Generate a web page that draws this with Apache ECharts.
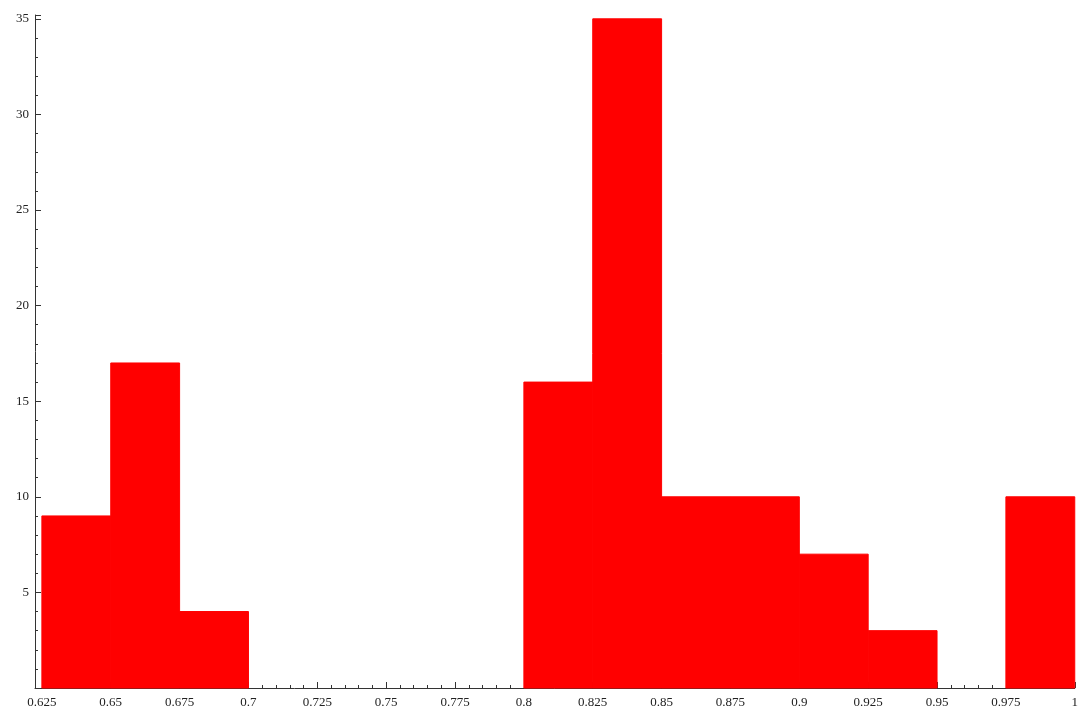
<!DOCTYPE html>
<html>
<head>
<meta charset="utf-8">
<script src="https://cdn.jsdelivr.net/npm/echarts@6/dist/echarts.min.js"></script>
<style>html,body{margin:0;background:#fff}#c{width:1081px;height:713px}</style>
</head>
<body>
<div id="c"></div>
<script>
// histogram bins (left edges, width 0.025) and counts
const binStarts = [0.625, 0.65, 0.675, 0.7, 0.725, 0.75, 0.775, 0.8, 0.825, 0.85, 0.875, 0.9, 0.925, 0.95, 0.975];
const counts    = [9, 17, 4, 0, 0, 0, 0, 16, 35, 10, 10, 7, 3, 0, 10];
const binWidth = 0.025;
const xMajor = [0.625, 0.65, 0.675, 0.7, 0.725, 0.75, 0.775, 0.8, 0.825, 0.85, 0.875, 0.9, 0.925, 0.95, 0.975, 1];
const xMinor = [];
for (let i = 0; i < 15; i++) for (let k = 1; k < 5; k++) xMinor.push(+(xMajor[i] + k * 0.005).toFixed(4));

const chart = echarts.init(document.getElementById("c"));
const font = { fontFamily: "Liberation Serif", fontSize: 13, color: "#222" };
const xBase = {
  type: "value", min: 0.6225, max: 1.0, position: "bottom",
  axisLine: { lineStyle: { color: "#333" } },
  splitLine: { show: false }
};
chart.setOption({
  animation: false,
  grid: { left: 35, right: 4, top: 15, bottom: 25 },
  xAxis: [
    Object.assign({}, xBase, {
      axisTick: { inside: true, length: 6, customValues: xMajor, lineStyle: { color: "#333" } },
      axisLabel: Object.assign({ customValues: xMajor, margin: 8, formatter: v => String(+v.toFixed(3)) }, font)
    }),
    Object.assign({}, xBase, {
      axisLine: { show: false },
      axisTick: { inside: true, length: 3, customValues: xMinor, lineStyle: { color: "#333" } },
      axisLabel: { show: false }
    })
  ],
  yAxis: {
    type: "value", min: 0, max: 35.2, interval: 5,
    axisLine: { show: true, lineStyle: { color: "#333" } },
    axisTick: { show: true, inside: true, length: 6, lineStyle: { color: "#333" } },
    minorTick: { show: true, splitNumber: 5, length: 3, lineStyle: { color: "#333" } },
    splitLine: { show: false },
    axisLabel: Object.assign({ margin: 6, formatter: v => (v === 0 || v % 5 !== 0) ? "" : String(v) }, font)
  },
  series: [{
    type: "custom",
    xAxisIndex: 0,
    z: 1,
    data: binStarts.map((s, i) => [s, s + binWidth, counts[i]]),
    encode: { x: [0, 1], y: 2 },
    renderItem: (params, api) => {
      if (!api.value(2)) return null;
      const p0 = api.coord([api.value(0), 0]);
      const p1 = api.coord([api.value(1), api.value(2)]);
      return { type: "rect", shape: { x: p0[0], y: p1[1], width: p1[0] - p0[0], height: p0[1] - p1[1] },
               style: { fill: "#ff0000", stroke: "#ff0000", lineWidth: 1 } };
    }
  }]
});
</script>
</body>
</html>
